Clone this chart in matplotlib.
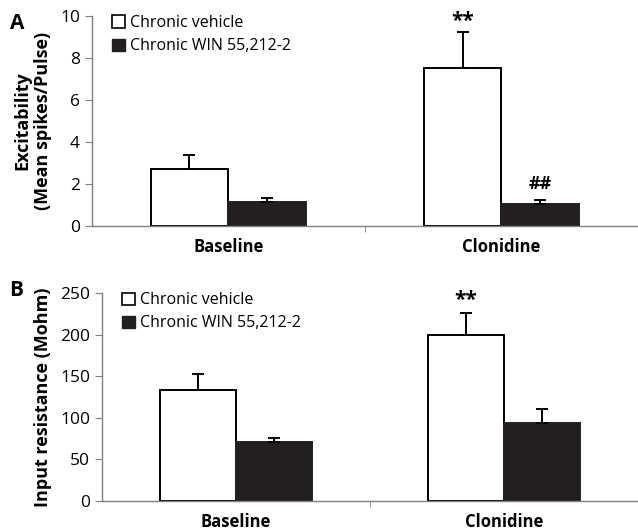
import numpy as np
import matplotlib.pyplot as plt
from matplotlib.patches import Patch

plt.rcParams['font.family'] = ['Open Sans', 'DejaVu Sans']

# data
groups = ["Baseline", "Clonidine"]
series = ["Chronic vehicle", "Chronic WIN 55,212-2"]

excit_veh = [2.7, 7.5]
excit_veh_err = [0.65, 1.75]
excit_win = [1.15, 1.05]
excit_win_err = [0.18, 0.17]

res_veh = [133, 199]
res_veh_err = [20, 27]
res_win = [71, 94]
res_win_err = [5, 16]

sig_a = [["", "**"], ["", "##"]]
sig_b = [["", "**"], ["", ""]]

fig = plt.figure(figsize=(6.38, 5.30), dpi=100)
axA = fig.add_axes([0.144, 0.574, 0.856, 0.396])
axB = fig.add_axes([0.160, 0.055, 0.840, 0.392])

w = 0.285
x = np.arange(len(groups))
gray = '#808080'


def panel(ax, veh, veh_err, win, win_err, ylim, yticks, ylabel, sig, off):
    ax.bar(x - w / 2, veh, w, color='white', edgecolor='black', linewidth=1.4,
           yerr=[np.zeros(len(veh)), veh_err], capsize=4.5,
           error_kw=dict(elinewidth=1.4, capthick=1.4, ecolor='black'))
    ax.bar(x + w / 2, win, w, color='#231f20', edgecolor='#231f20', linewidth=1.4,
           yerr=[np.zeros(len(win)), win_err], capsize=4.5,
           error_kw=dict(elinewidth=1.4, capthick=1.4, ecolor='black'))
    for i in range(len(groups)):
        if sig[0][i]:
            ax.text(x[i] - w / 2, veh[i] + veh_err[i] + off[0], sig[0][i],
                    ha='center', va='bottom', fontsize=15, fontweight='bold')
        if sig[1][i]:
            ax.text(x[i] + w / 2, win[i] + win_err[i] + off[1], sig[1][i],
                    ha='center', va='bottom', fontsize=13, fontweight='bold')
    ax.set_xlim(-0.5, 1.5)
    ax.set_ylim(*ylim)
    ax.set_yticks(yticks)
    ax.set_xticks(x)
    ax.set_xticklabels(groups, fontsize=12, fontweight='bold')
    ax.set_xticks([0.5], minor=True)
    ax.tick_params(axis='x', which='major', length=0, pad=9)
    ax.tick_params(axis='x', which='minor', length=4, color=gray, direction='out')
    ax.tick_params(axis='y', labelsize=12.5, length=5, color=gray, direction='out')
    ax.set_ylabel(ylabel, fontsize=13, fontweight='bold', labelpad=6)
    for s in ['top', 'right']:
        ax.spines[s].set_visible(False)
    for s in ['left', 'bottom']:
        ax.spines[s].set_color(gray)
        ax.spines[s].set_linewidth(1.0)
    handles = [Patch(facecolor='white', edgecolor='black', linewidth=1.2),
               Patch(facecolor='#231f20', edgecolor='#231f20')]
    ax.legend(handles, series, loc='upper left', bbox_to_anchor=(0.02, 1.05),
              frameon=False, fontsize=11.5, handlelength=0.8, handleheight=0.8,
              handletextpad=0.3, labelspacing=0.45, borderaxespad=0.2)


panel(axA, excit_veh, excit_veh_err, excit_win, excit_win_err, (0, 10),
      [0, 2, 4, 6, 8, 10], "Excitability\n(Mean spikes/Pulse)", sig_a, (0.0, 0.35))
panel(axB, res_veh, res_veh_err, res_win, res_win_err, (0, 250),
      [0, 50, 100, 150, 200, 250], "Input resistance (Mohm)", sig_b, (2, 8))

fig.text(0.015, 0.946, "A", fontsize=15, fontweight='bold')
fig.text(0.015, 0.442, "B", fontsize=15, fontweight='bold')

plt.savefig("out.png", dpi=100)
